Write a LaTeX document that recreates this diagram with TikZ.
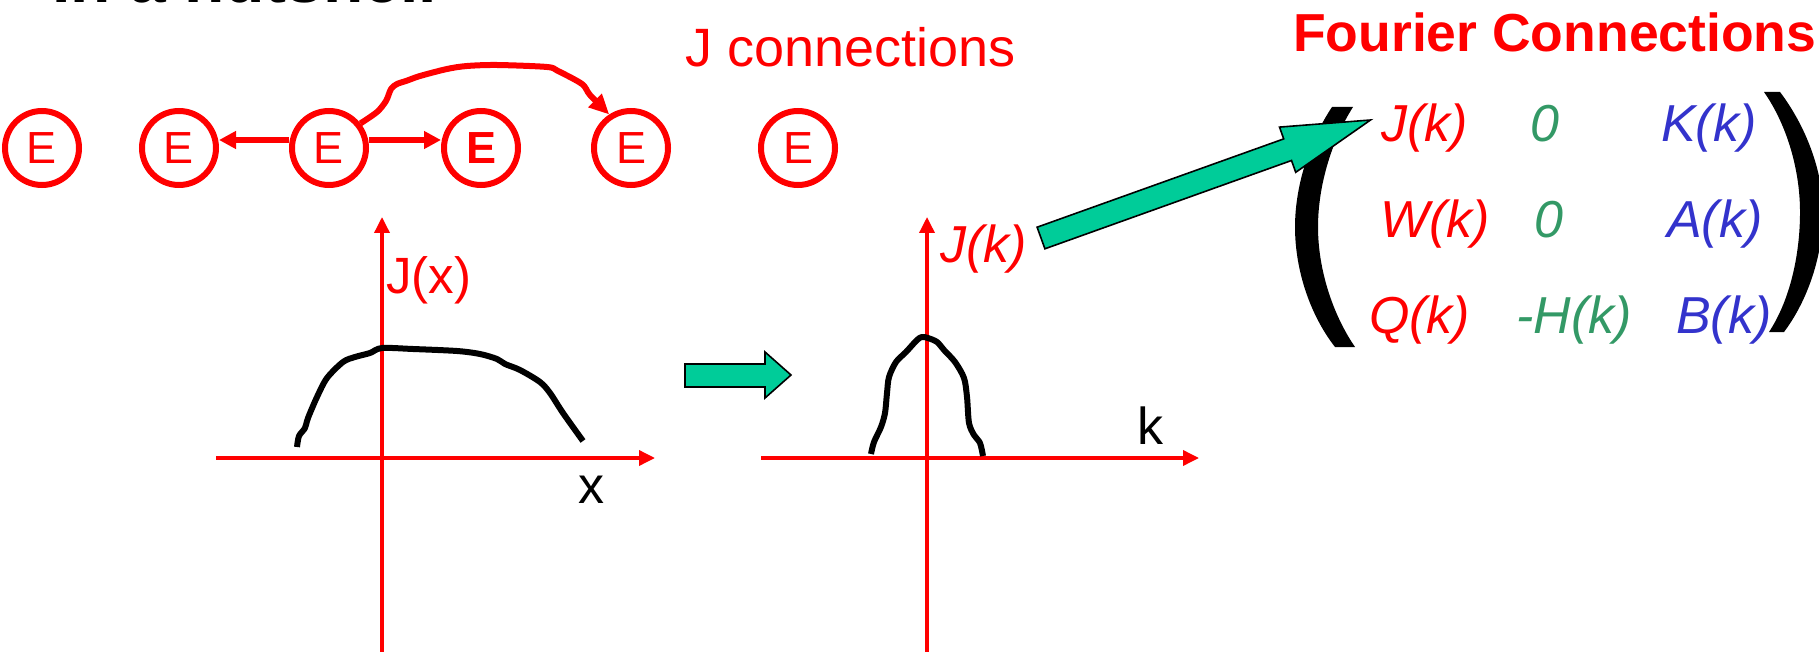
\documentclass[tikz,border=0pt]{standalone}
\usepackage{fontspec}
\setmainfont{Liberation Sans}
\usetikzlibrary{arrows.meta}
\definecolor{pptred}{RGB}{255,0,0}
\definecolor{pptteal}{RGB}{0,204,153}
\definecolor{pptgreen}{RGB}{51,153,102}
\definecolor{pptblue}{RGB}{51,51,204}
\tikzset{
  enode/.style={circle, draw=pptred, line width=6pt, minimum size=74pt, inner sep=0pt,
    text=pptred, font=\fontsize{45}{50}\selectfont},
  redarr/.style={draw=pptred, line width=6pt, -{Triangle[length=17pt,width=17pt]}},
  curvarr/.style={draw=pptred, line width=6pt, line join=round, -{Triangle[length=20pt,width=18pt]}},
  axisarr/.style={draw=pptred, line width=3.5pt, -{Triangle[length=16pt,width=15pt]}},
  fcurve/.style={draw=black, line width=6pt, line join=round, line cap=butt},
  blockarr/.style={fill=pptteal, draw=black, line width=1.6pt, line join=miter},
  bracket/.style={fill=black, draw=none},
  txt/.style={inner sep=0pt, anchor=base west},
  mtx/.style={txt, font=\itshape\fontsize{52}{58}\selectfont},
}
\begin{document}
\begin{tikzpicture}[x=1pt,y=-1pt]
\useasboundingbox (0,0) rectangle (1819,652);
\clip (0,0) rectangle (1819,652);

% clipped title line
\node[txt, font=\bfseries\fontsize{66}{70}\selectfont] (title) at (52,3) {In a nutshell};

% E nodes
\node[enode] (c1) at (42,148) {E};
\node[enode] (c2) at (179,148) {E};
\node[enode] (c3) at (329,148) {E};
\node[enode, font=\bfseries\fontsize{45}{50}\selectfont] (c4) at (481,148) {E};
\node[enode] (c5) at (631,148) {E};
\node[enode] (c6) at (798,148) {E};

\draw[redarr] ([yshift=8pt]c3.west) -- ([yshift=8pt]c2.east);
\draw[redarr] ([yshift=8pt]c3.east) -- ([yshift=8pt]c4.west);
\draw[curvarr] plot[smooth, tension=0.5] coordinates {(c3.38) (377,112) (386,101) (391,89) (397,84) (406,81) (420,76) (447,69) (467,66) (497,65) (547,67) (558,71) (582,84) (590,95) (c5.123)};

\node[txt, text=pptred, font=\fontsize{54}{60}\selectfont] (jconn) at (685,67) {J connections};
\node[txt, text=pptred, font=\bfseries\fontsize{53.5}{60}\selectfont] (fconn) at (1293,52) {Fourier Connections};

% left plot
\coordinate (lyb) at (382,652);
\coordinate (lyt) at (382,217);
\coordinate (lxl) at (216,458);
\coordinate (lxr) at (655,458);
\draw[axisarr] (lyb) -- (lyt);
\draw[axisarr] (lxl) -- (lxr);
\draw[fcurve] plot[smooth, tension=0.5] coordinates {(297,447) (299,436) (305,428) (308,418) (317,397) (327,378) (343,362) (355,357) (370,353) (382,348) (413,349) (457,351) (480,354) (497,359) (505,364) (520,370) (540,382) (550,393) (563,413) (583,441)};
\node[txt, text=pptred, font=\fontsize{51}{56}\selectfont] (jx) at (386,293) {J(x)};
\node[txt, text=black, font=\fontsize{52}{56}\selectfont] (xlab) at (578,503) {x};

% small block arrow
\draw[blockarr] (685,364) -- (765,364) -- (765,352) -- (791,375) -- (765,398) -- (765,387) -- (685,387) -- cycle;

% right plot
\coordinate (ryb) at (927,652);
\coordinate (ryt) at (927,217);
\coordinate (rxl) at (761,458);
\coordinate (rxr) at (1199,458);
\draw[axisarr] (ryb) -- (ryt);
\draw[axisarr] (rxl) -- (rxr);
\draw[fcurve] plot[smooth, tension=0.5] coordinates {(871,454) (874,442) (881,427) (885,413) (887,393) (889,377) (896,362) (906,352) (917,340) (922,337) (928,338) (937,342) (944,350) (955,362) (964,378) (967,397) (969,423) (974,435) (980,443) (983,456)};
\node[txt, text=pptred, font=\itshape\fontsize{52}{58}\selectfont] (jk) at (940,262) {J(k)};
\node[txt, text=black, font=\fontsize{52}{56}\selectfont] (klab) at (1137,444) {k};

% matrix entries
\node[mtx, text=pptred] (m11) at (1381,142) {J(k)};
\node[mtx, text=pptgreen] (m12) at (1530,142) {0};
\node[mtx, text=pptblue] (m13) at (1661,142) {K(k)};
\node[mtx, text=pptred] (m21) at (1380,238) {W(k)};
\node[mtx, text=pptgreen] (m22) at (1534,238) {0};
\node[mtx, text=pptblue] (m23) at (1667,238) {A(k)};
\node[mtx, text=pptred] (m31) at (1369,333) {Q(k)};
\node[mtx, text=pptgreen] (m32) at (1516,333) {-H(k)};
\node[mtx, text=pptblue] (m33) at (1676,333) {B(k)};

% brackets
\fill[bracket] (1332,107) .. controls (1310,140) and (1295,185) .. (1295,227)
  .. controls (1295,270) and (1310,315) .. (1335,347) -- (1355,347)
  .. controls (1333,315) and (1318,270) .. (1318,227)
  .. controls (1318,185) and (1332,140) .. (1353,107) -- cycle;
\fill[bracket] (1764,92) .. controls (1787,125) and (1800,170) .. (1800,212)
  .. controls (1800,255) and (1790,300) .. (1769,332) -- (1784,332)
  .. controls (1808,300) and (1823,255) .. (1823,212)
  .. controls (1823,170) and (1805,125) .. (1780,92) -- cycle;

% big block arrow
\draw[blockarr] (1037.1,227.2) -- (1283.7,138.9) -- (1279.5,127.1) -- (1370.5,120)
  -- (1295.7,172.3) -- (1291.5,160.5) -- (1044.9,248.8) -- cycle;
\end{tikzpicture}
\end{document}
